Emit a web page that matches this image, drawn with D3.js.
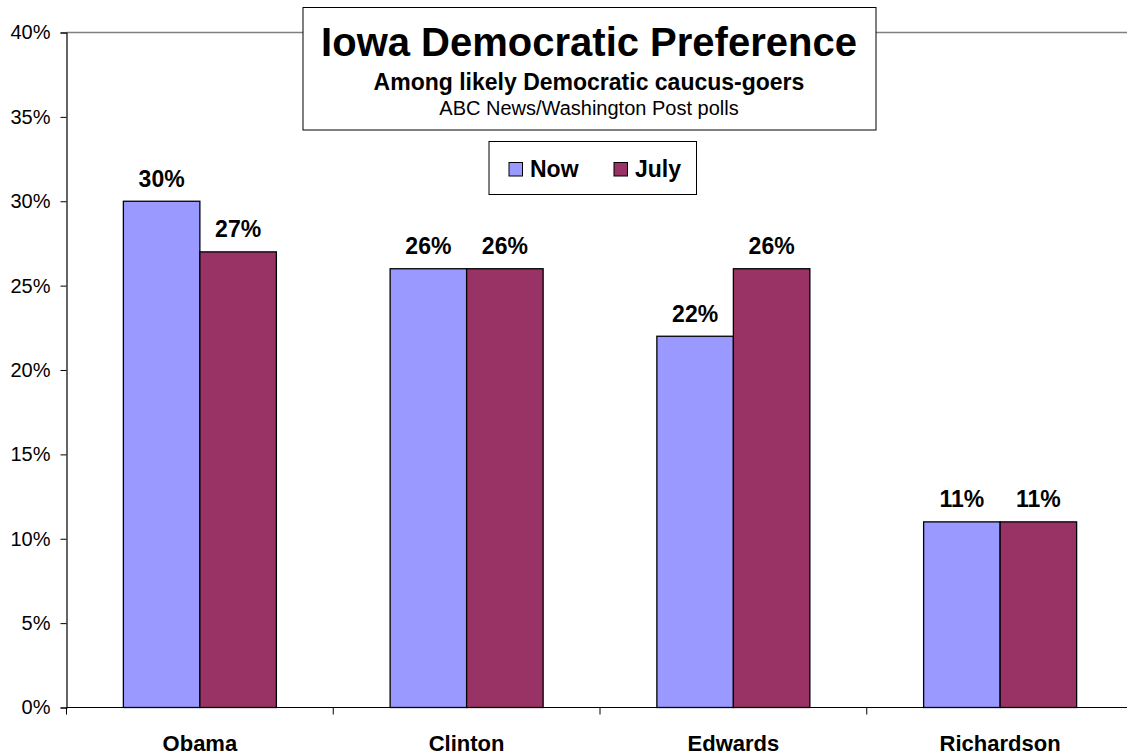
<!DOCTYPE html>
<html><head><meta charset="utf-8">
<script src="https://cdn.jsdelivr.net/npm/d3@7"></script>
<style>html,body{margin:0;padding:0;background:#fff;} svg{display:block;font-family:Arial,"Liberation Sans",sans-serif;}</style>
</head><body>
<svg id="chart" width="1127" height="756"></svg>
<script>
const categories = ["Obama", "Clinton", "Edwards", "Richardson"];
const seriesNames = ["Now", "July"];
const nowValues = [30, 26, 22, 11];
const julyValues = [27, 26, 26, 11];
const yTicks = [0, 5, 10, 15, 20, 25, 30, 35, 40];
const colors = ["#9999FF", "#993366"];
const titleText = "Iowa Democratic Preference";
const subtitleText = "Among likely Democratic caucus-goers";
const sourceText = "ABC News/Washington Post polls";

(function(){
const svg = d3.select("#chart");
const pLeft = 66.5, pRight = 1133.5, pTop = 32.5, pBottom = 707.5;

const x0 = d3.scaleBand().domain(categories).range([pLeft, pRight]).paddingInner(0).paddingOuter(0);
const step = x0.bandwidth();
const barW = 76.5;
const x1 = d3.scaleBand().domain(seriesNames).range([step/2 - barW, step/2 + barW]).padding(0);
const y = d3.scaleLinear().domain([0, 40]).range([pBottom, pTop]);

const data = categories.map((c, i) => ({cat: c, vals: [nowValues[i], julyValues[i]]}));

svg.append("line").attr("x1", pLeft).attr("x2", 1127).attr("y1", y(40)).attr("y2", y(40))
  .attr("stroke", "#808080").attr("stroke-width", 1.5);

const g = svg.append("g");
data.forEach(d => {
  d.vals.forEach((v, si) => {
    const bx = x0(d.cat) + x1(seriesNames[si]);
    g.append("rect").attr("x", bx).attr("y", y(v)).attr("width", x1.bandwidth()).attr("height", y(0) - y(v))
      .attr("fill", colors[si]).attr("stroke", "#000").attr("stroke-width", 1.3);
    g.append("text").attr("x", bx + x1.bandwidth()/2).attr("y", y(v) - 14.5)
      .attr("text-anchor", "middle").attr("font-weight", "bold").attr("font-size", 23).text(v + "%");
  });
});

const yAxis = d3.axisLeft(y).tickValues(yTicks).tickFormat(d => d + "%").tickSize(6).tickPadding(10);
const ya = svg.append("g").attr("transform", `translate(${pLeft},0)`).call(yAxis);
ya.select(".domain").attr("stroke", "#000").attr("stroke-width", 1.2);
ya.selectAll(".tick line").attr("stroke", "#000");
ya.selectAll(".tick text").attr("font-size", 20).attr("font-family", "Arial, 'Liberation Sans', sans-serif").attr("fill", "#000");

const xa = svg.append("g").attr("transform", `translate(0,${pBottom})`);
xa.append("line").attr("x1", pLeft).attr("x2", 1127).attr("y1", 0).attr("y2", 0).attr("stroke", "#000").attr("stroke-width", 1.2);
categories.forEach((c, i) => {
  xa.append("line").attr("x1", x0(c)).attr("x2", x0(c)).attr("y1", 0).attr("y2", 7).attr("stroke", "#000");
  xa.append("text").attr("x", x0(c) + step/2).attr("y", 43).attr("text-anchor", "middle")
    .attr("font-weight", "bold").attr("font-size", 22).text(c);
});

const tb = svg.append("g");
tb.append("rect").attr("x", 303).attr("y", 7.5).attr("width", 573).attr("height", 122.5)
  .attr("fill", "#fff").attr("stroke", "#000").attr("stroke-width", 1);
tb.append("text").attr("x", 589).attr("y", 56).attr("text-anchor", "middle").attr("font-weight", "bold").attr("font-size", 40).text(titleText);
tb.append("text").attr("x", 589).attr("y", 90).attr("text-anchor", "middle").attr("font-weight", "bold").attr("font-size", 23).text(subtitleText);
tb.append("text").attr("x", 589).attr("y", 115).attr("text-anchor", "middle").attr("font-size", 20).text(sourceText);

const lg = svg.append("g");
lg.append("rect").attr("x", 489).attr("y", 141.5).attr("width", 207.5).attr("height", 53)
  .attr("fill", "#fff").attr("stroke", "#000").attr("stroke-width", 1);
const legendX = [509, 614];
seriesNames.forEach((s, i) => {
  lg.append("rect").attr("x", legendX[i]).attr("y", 162.5).attr("width", 13.5).attr("height", 13.5)
    .attr("fill", colors[i]).attr("stroke", "#000").attr("stroke-width", 1);
  lg.append("text").attr("x", legendX[i] + 21).attr("y", 177).attr("font-weight", "bold").attr("font-size", 23).text(s);
});
})();
</script>
</body></html>
